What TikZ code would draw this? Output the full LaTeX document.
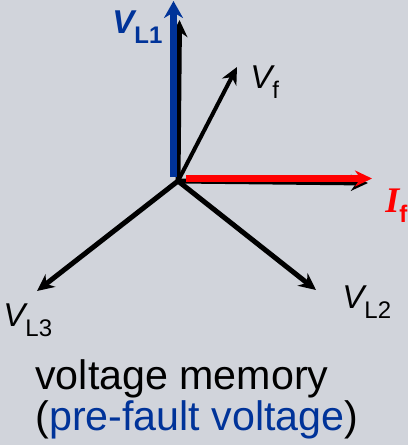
\documentclass[tikz,border=0pt]{standalone}
\usepackage{fontspec}
\setmainfont{Liberation Sans}
\newfontfamily\serifbf{Liberation Serif}
\usetikzlibrary{arrows.meta}
\definecolor{bgray}{RGB}{209,212,219}
\definecolor{vblue}{RGB}{0,51,153}
\tikzset{
  phasor/.style={line width=2.5pt,-{Stealth[length=8.5pt,width=8pt]}},
  lbl/.style={anchor=base west,inner sep=0pt,font=\fontsize{16.5}{16.5}\selectfont},
  txt/.style={anchor=base west,inner sep=0pt,font=\fontsize{20.6}{20.6}\selectfont},
}
\newcommand{\subl}[1]{\raisebox{-5pt}{\fontsize{12}{12}\selectfont #1}}
\begin{document}
\begin{tikzpicture}[x=0.5pt,y=-0.5pt]
    \fill[bgray] (0,0) rectangle (408,445);
    \useasboundingbox (0,0) rectangle (408,445);
    \coordinate (O) at (178,181);
    \coordinate (L1) at (179.5,20);
    \coordinate (L2) at (316,290);
    \coordinate (L3) at (37,291);
    \coordinate (Vf) at (237,67);
    \coordinate (If) at (368,183);
    % phasors
    \draw[phasor] (O) -- (L1);
    \draw[phasor] (O) -- (If);
    \draw[phasor] (O) -- (L2);
    \draw[phasor] (O) -- (L3);
    \draw[phasor, line width=2pt] (O) -- (Vf);
    % highlighted
    \coordinate (B0) at (173.5,177);
    \coordinate (B1) at (173.5,1);
    \coordinate (R0) at (186,178.5);
    \coordinate (R1) at (372,178.5);
    \draw[vblue, line width=3.5pt, -{Stealth[length=8.5pt,width=9.5pt]}] (B0) -- (B1);
    \draw[red, line width=3.5pt, -{Stealth[length=8.5pt,width=8pt]}] (R0) -- (R1);
    % labels
    \node[lbl, text=vblue] (tL1) at (112,33) {\bfseries\itshape V\subl{\upshape L1}};
    \node[lbl] (tVf) at (250,88) {\itshape V\subl{\upshape f}};
    \node[lbl] (tL2) at (342,308) {\itshape V\subl{\upshape L2}};
    \node[lbl] (tL3) at (3,326) {\itshape V\subl{\upshape L3}};
    \node[lbl, text=red, font=\fontsize{18}{18}\selectfont] (tIf) at (385,212) {{\serifbf\bfseries\itshape I}\subl{\bfseries f}};
    \node[txt] (mem) at (35,389) {voltage memory};
    \node[txt] (pre) at (35,430) {(\textcolor{vblue}{pre-fault voltage})};
\end{tikzpicture}
\end{document}
